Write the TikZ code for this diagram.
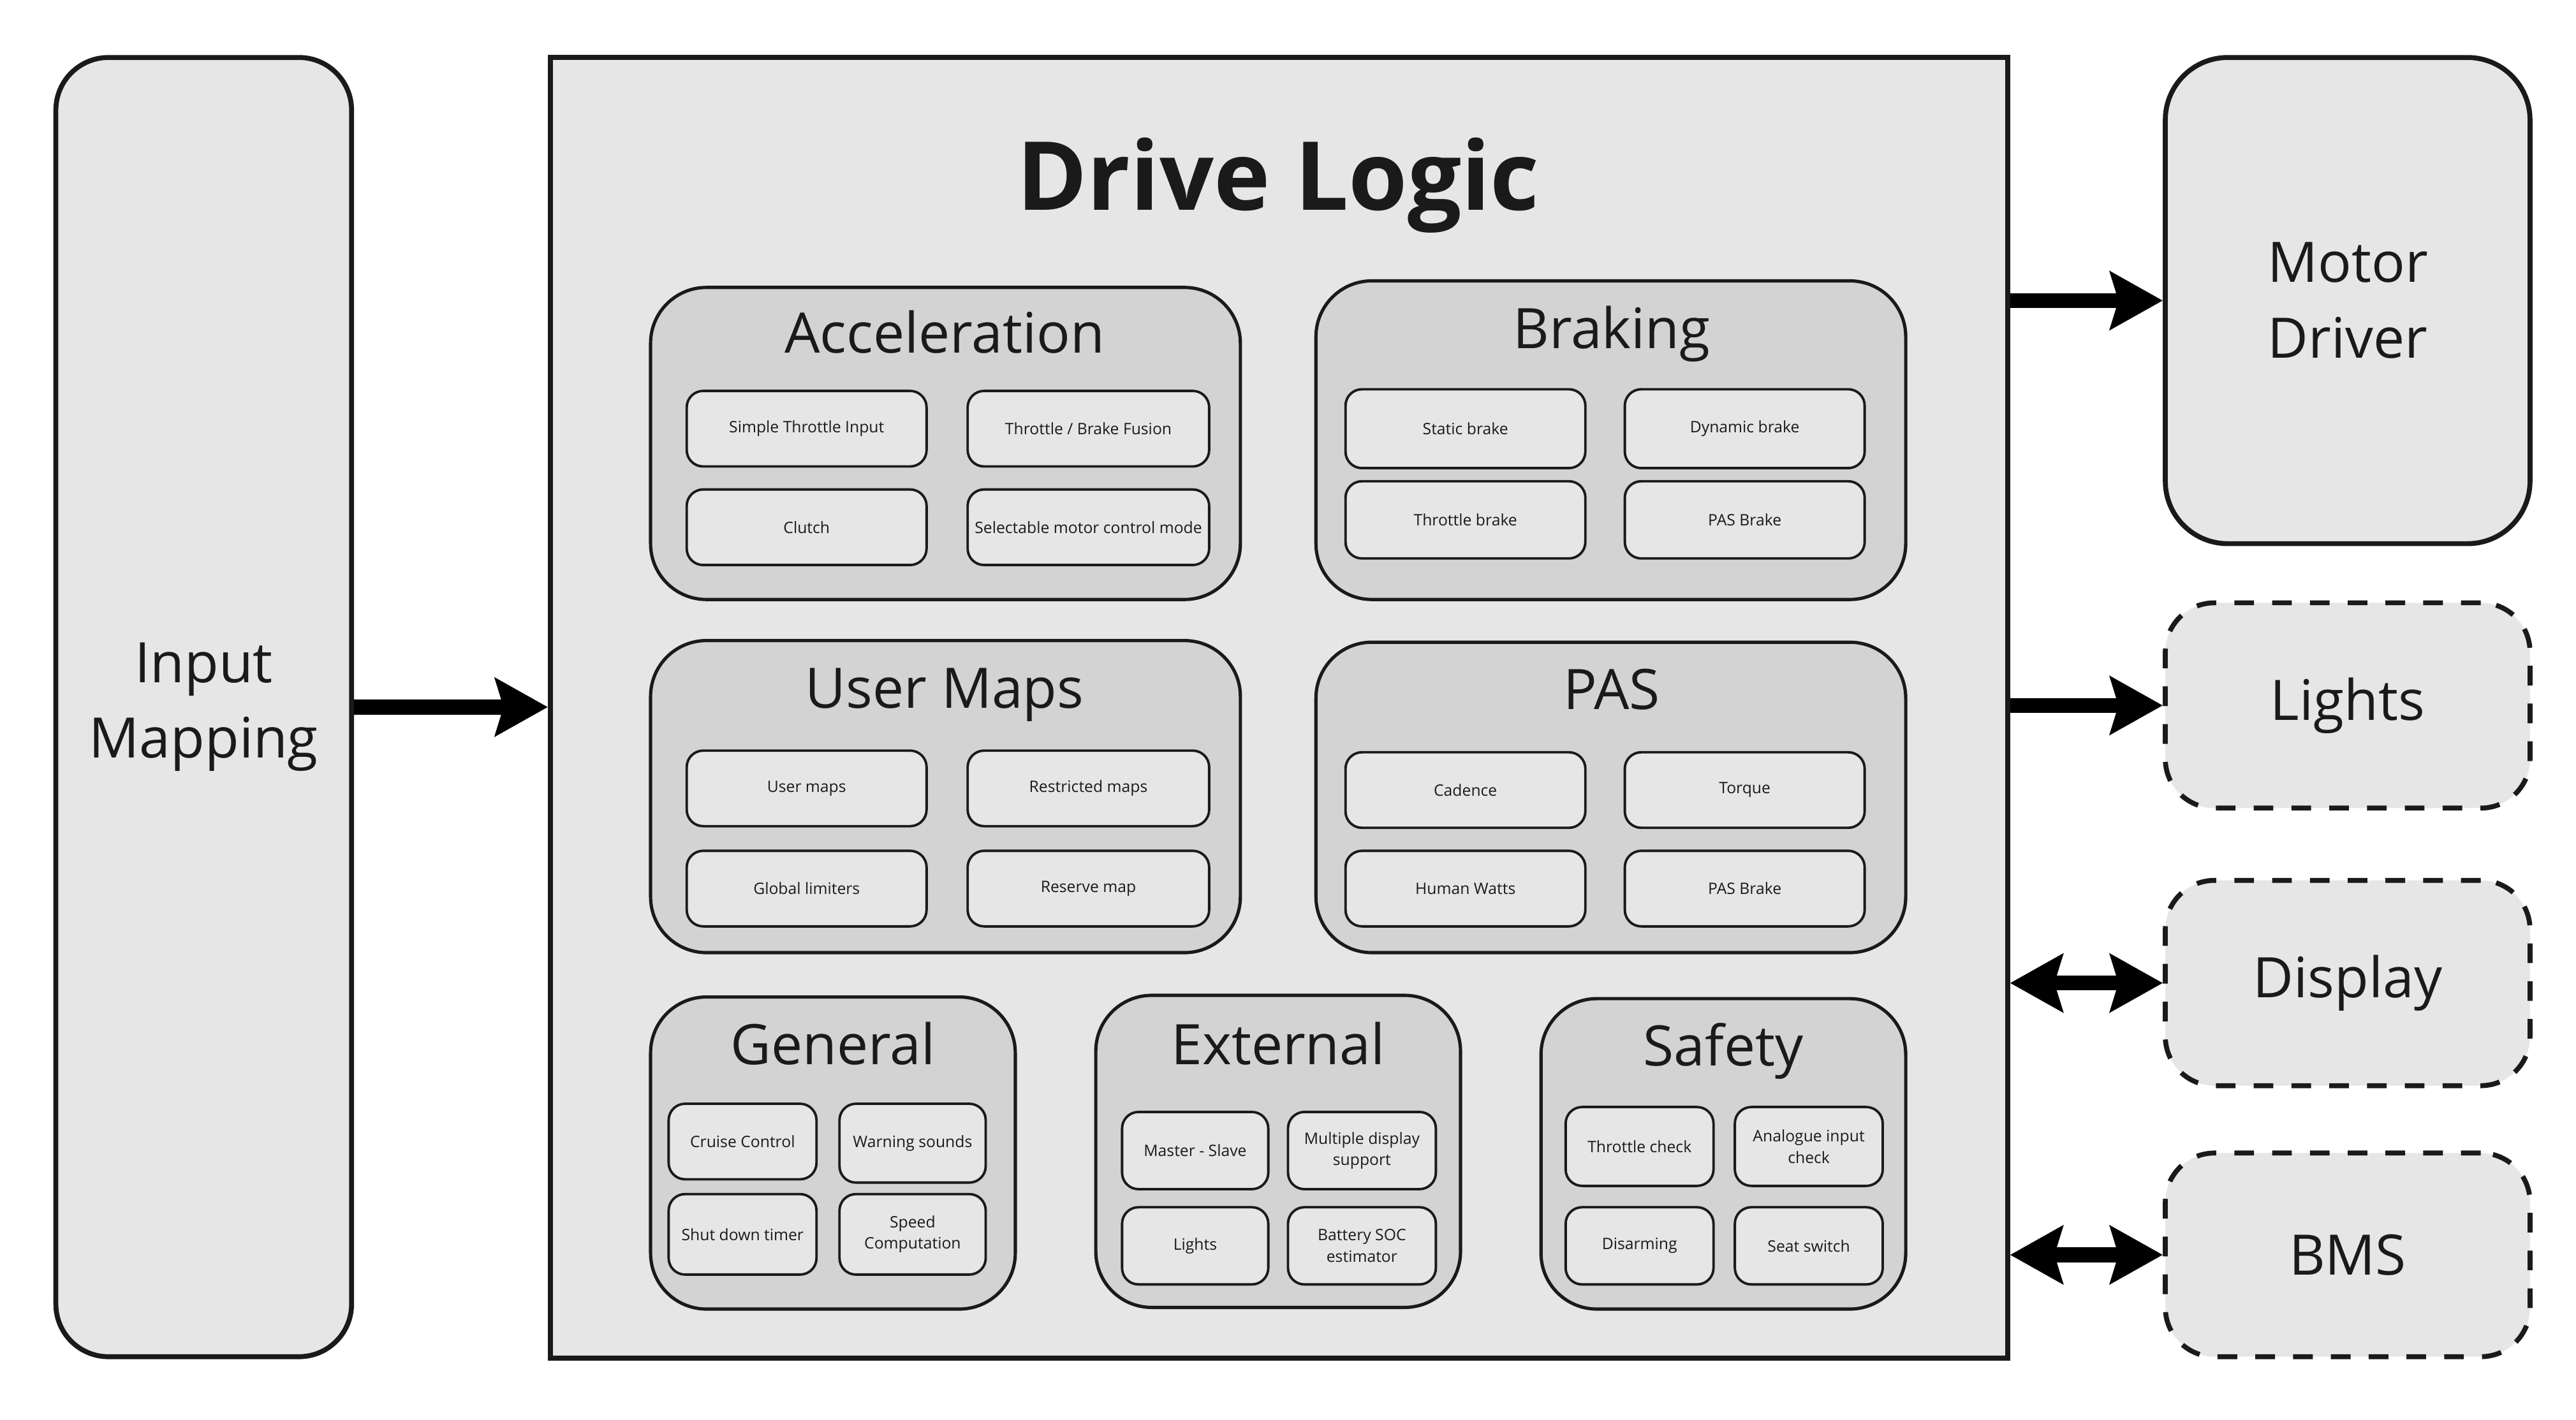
\documentclass[tikz,border=0pt]{standalone}
\usepackage{fontspec}
\setmainfont{Open Sans}
\usetikzlibrary{arrows.meta}
\definecolor{linec}{HTML}{1A1A1A}
\definecolor{fillA}{HTML}{E6E6E6}
\definecolor{fillB}{HTML}{D3D3D3}
\begin{document}
\begin{tikzpicture}[x=1pt,y=-1pt,
  outerbox/.style={draw=linec, line width=3, fill=fillA, inner sep=0, outer sep=0, align=center, text=linec, font=\fontsize{34}{46}\selectfont},
  solidbox/.style={outerbox, rounded corners=32},
  dashbox/.style={outerbox, rounded corners=30, dash pattern=on 12pt off 11pt},
  logicbox/.style={draw=linec, line width=3, fill=fillA, inner sep=0, outer sep=0},
  groupbox/.style={draw=linec, line width=2, fill=fillB, rounded corners=34, inner sep=0, outer sep=0},
  grouptitle/.style={anchor=base, inner sep=0, text=linec, font=\fontsize{34}{46}\selectfont},
  itembox/.style={draw=linec, line width=1.5, fill=fillA, rounded corners=10, inner sep=0, outer sep=0, align=center, text=linec, font=\fontsize{9.6}{13}\selectfont},
  bigarrow/.style={line width=9, draw=black, -{Stealth[length=32pt,width=35pt,inset=5pt]}},
  botharrow/.style={line width=9, draw=black, {Stealth[length=32pt,width=35pt,inset=5pt]}-{Stealth[length=32pt,width=35pt,inset=5pt]}}
]
\useasboundingbox (0,0) rectangle (1568,864.5);
\fill[white] (0,0) rectangle (1568,864.5);

% outer boxes
\node[solidbox, minimum width=180, minimum height=791] (im) at (124,430.5) {Input\\Mapping};
\node[logicbox, minimum width=887, minimum height=792] (dl) at (778.5,431) {};
\node[anchor=base, inner sep=0, text=linec, font=\fontsize{58}{70}\selectfont\bfseries] (dlT) at (778,128) {Drive Logic};
\node[solidbox, rounded corners=38, minimum width=222, minimum height=296] (md) at (1429,183) {Motor\\Driver};
\node[dashbox, minimum width=222, minimum height=125] (li) at (1429,429.5) {Lights};
\node[dashbox, minimum width=222, minimum height=125] (di) at (1429,598.5) {Display};
\node[dashbox, minimum width=222, minimum height=124] (bm) at (1429,764) {BMS};

% groups
\node[groupbox, minimum width=359, minimum height=190] (acc) at (575.5,270) {};
\node[grouptitle] (accT) at (575,215) {Acceleration};
\node[groupbox, minimum width=359, minimum height=194] (brk) at (980.5,268) {};
\node[grouptitle] (brkT) at (981,212) {Braking};
\node[groupbox, minimum width=359, minimum height=190] (um) at (575.5,485) {};
\node[grouptitle] (umT) at (575,431) {User Maps};
\node[groupbox, minimum width=359, minimum height=189] (pas) at (980.5,485.5) {};
\node[grouptitle] (pasT) at (981,432) {PAS};
\node[groupbox, minimum width=222, minimum height=190] (gen) at (507,702) {};
\node[grouptitle] (genT) at (507,648) {General};
\node[groupbox, minimum width=222, minimum height=190] (ext) at (778,701) {};
\node[grouptitle] (extT) at (778,648) {External};
\node[groupbox, minimum width=222, minimum height=189] (saf) at (1049,702.5) {};
\node[grouptitle] (safT) at (1049,649) {Safety};

% Acceleration items
\node[itembox, minimum width=146, minimum height=46] (a1) at (491,261) {Simple Throttle Input};
\node[itembox, minimum width=147, minimum height=46] (a2) at (662.5,261) {Throttle / Brake Fusion};
\node[itembox, minimum width=146, minimum height=46] (a3) at (491,321) {Clutch};
\node[itembox, minimum width=147, minimum height=46] (a4) at (662.5,321) {Selectable motor control mode};

% Braking items
\node[itembox, minimum width=146, minimum height=48] (b1) at (892,261) {Static brake};
\node[itembox, minimum width=146, minimum height=48] (b2) at (1062,261) {Dynamic brake};
\node[itembox, minimum width=146, minimum height=47] (b3) at (892,316.5) {Throttle brake};
\node[itembox, minimum width=146, minimum height=47] (b4) at (1062,316.5) {PAS Brake};

% User maps items
\node[itembox, minimum width=146, minimum height=46] (u1) at (491,480) {User maps};
\node[itembox, minimum width=147, minimum height=46] (u2) at (662.5,480) {Restricted maps};
\node[itembox, minimum width=146, minimum height=46] (u3) at (491,541) {Global limiters};
\node[itembox, minimum width=147, minimum height=46] (u4) at (662.5,541) {Reserve map};

% PAS items
\node[itembox, minimum width=146, minimum height=46] (p1) at (892,481) {Cadence};
\node[itembox, minimum width=146, minimum height=46] (p2) at (1062,481) {Torque};
\node[itembox, minimum width=146, minimum height=46] (p3) at (892,541) {Human Watts};
\node[itembox, minimum width=146, minimum height=46] (p4) at (1062,541) {PAS Brake};

% General items
\node[itembox, minimum width=90, minimum height=46] (g1) at (452,695) {Cruise Control};
\node[itembox, minimum width=89, minimum height=48] (g2) at (555.5,696) {Warning sounds};
\node[itembox, minimum width=90, minimum height=49] (g3) at (452,751.5) {Shut down timer};
\node[itembox, minimum width=89, minimum height=49] (g4) at (555.5,751.5) {Speed\\Computation};

% External items
\node[itembox, minimum width=89, minimum height=47] (e1) at (727.5,700.5) {Master - Slave};
\node[itembox, minimum width=90, minimum height=47] (e2) at (829,700.5) {Multiple display\\support};
\node[itembox, minimum width=89, minimum height=47] (e3) at (727.5,758.5) {Lights};
\node[itembox, minimum width=90, minimum height=47] (e4) at (829,758.5) {Battery SOC\\estimator};

% Safety items
\node[itembox, minimum width=90, minimum height=48] (s1) at (998,698) {Throttle check};
\node[itembox, minimum width=90, minimum height=48] (s2) at (1101,698) {Analogue input\\check};
\node[itembox, minimum width=90, minimum height=47] (s3) at (998,758.5) {Disarming};
\node[itembox, minimum width=90, minimum height=47] (s4) at (1101,758.5) {Seat switch};

% connectors
\draw[bigarrow] ([xshift=1.5pt]im.east) -- ([xshift=-1.5pt]im.east -| dl.west);
\draw[bigarrow] ([xshift=1.5pt]md.west -| dl.east) -- ([xshift=-1.5pt]md.west);
\draw[bigarrow] ([xshift=1.5pt]li.west -| dl.east) -- ([xshift=-1.5pt]li.west);
\draw[botharrow] ([xshift=1.5pt]di.west -| dl.east) -- ([xshift=-1.5pt]di.west);
\draw[botharrow] ([xshift=1.5pt]bm.west -| dl.east) -- ([xshift=-1.5pt]bm.west);
\end{tikzpicture}
\end{document}
